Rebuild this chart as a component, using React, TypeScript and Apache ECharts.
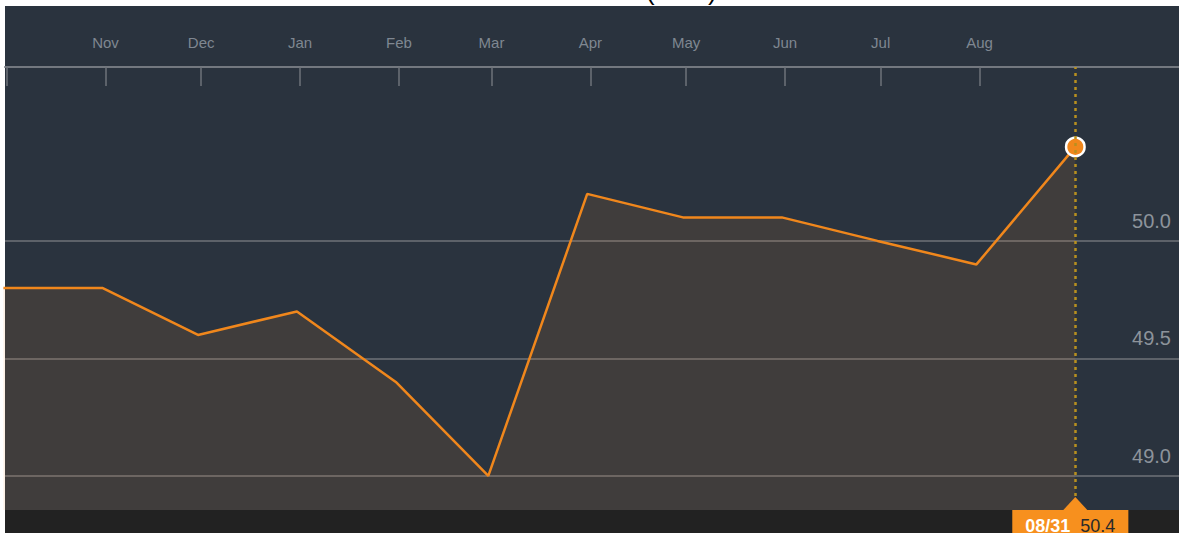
import React, { useEffect, useRef } from "react";
import * as echarts from "echarts";

// ---- data ----
const DATES = [
  "2015-09-30", "2015-10-31", "2015-11-30", "2015-12-31", "2016-01-31", "2016-02-29",
  "2016-03-31", "2016-04-30", "2016-05-31", "2016-06-30", "2016-07-31", "2016-08-31",
];
const VALUES = [49.8, 49.8, 49.6, 49.7, 49.4, 49.0, 50.2, 50.1, 50.1, 50.0, 49.9, 50.4];
const MONTH_TICKS = [
  "2015-10-01", "2015-11-01", "2015-12-01", "2016-01-01", "2016-02-01", "2016-03-01",
  "2016-04-01", "2016-05-01", "2016-06-01", "2016-07-01", "2016-08-01",
];
const MONTH_LABEL_TICKS = MONTH_TICKS.slice(1);
const MONTH_NAMES = ["Jan", "Feb", "Mar", "Apr", "May", "Jun", "Jul", "Aug", "Sep", "Oct", "Nov", "Dec"];
const Y_TICKS = [49.0, 49.5, 50.0];
const X_MIN = "2015-09-30T12:00:00Z";
const X_MAX = "2016-10-02T12:00:00Z";
const Y_MIN = 48.855;
const Y_MAX = 50.74;
const TITLE = "(NBS)";

const FONT = "Liberation Sans";
const ORANGE = "#f0871c";
const LABEL_ORANGE = "#f7901e";

export default function App() {
  const ref = useRef<HTMLDivElement>(null);

  useEffect(() => {
    if (!ref.current) return;
    const chart = echarts.init(ref.current, null, { renderer: "svg" });
    const last = DATES.length - 1;
    const lastT = Date.parse(DATES[last]);
    const ld = new Date(lastT);
    const pad = (n: number) => (n < 10 ? "0" + n : "" + n);
    const lastLabel = `${pad(ld.getUTCMonth() + 1)}/${pad(ld.getUTCDate())}`;

    const data = DATES.map((d, i) => {
      const item: any = { value: [Date.parse(d), VALUES[i]] };
      if (i === last) {
        item.symbol = "circle";
        item.symbolSize = 18.5;
        item.itemStyle = { color: ORANGE, borderColor: "#ffffff", borderWidth: 2.5 };
      }
      return item;
    });

    chart.setOption({
      animation: false,
      backgroundColor: "transparent",
      grid: { left: 5, right: 0, top: 67, bottom: 23 },
      xAxis: {
        type: "value",
        position: "top",
        min: Date.parse(X_MIN),
        max: Date.parse(X_MAX),
        axisLine: { show: true, lineStyle: { color: "#73787f", width: 2 } },
        axisTick: {
          show: true,
          inside: true,
          length: 19,
          customValues: MONTH_TICKS.map((d) => Date.parse(d)),
          lineStyle: { color: "#6e737a", width: 1.5 },
        },
        axisLabel: {
          show: true,
          margin: 17,
          customValues: MONTH_LABEL_TICKS.map((d) => Date.parse(d)),
          formatter: (v: number) => MONTH_NAMES[new Date(v).getUTCMonth()],
          color: "#7f8791",
          fontSize: 15,
          fontFamily: FONT,
        },
        splitLine: { show: false },
      },
      yAxis: {
        type: "value",
        position: "right",
        min: Y_MIN,
        max: Y_MAX,
        axisLine: { show: false },
        axisTick: { show: false, customValues: Y_TICKS },
        axisLabel: {
          show: true,
          inside: true,
          margin: 8,
          customValues: Y_TICKS,
          formatter: (v: number) => v.toFixed(1),
          color: "#8d939b",
          fontSize: 20,
          fontFamily: FONT,
          verticalAlign: "bottom",
          padding: [0, 0, 10, 0],
        },
        splitLine: { show: true, lineStyle: { color: "#6f7379", width: 1.5 } },
      },
      series: [
        {
          type: "line",
          data,
          symbol: "none",
          showSymbol: true,
          lineStyle: { color: ORANGE, width: 2.5 },
          itemStyle: { color: ORANGE },
          areaStyle: { color: "rgba(230,139,50,0.17)", origin: "start" },
          silent: true,
          markLine: {
            silent: true,
            symbol: ["none", "none"],
            label: { show: false },
            lineStyle: { type: [3, 4], color: "#b8901f", width: 2.5 },
            data: [{ xAxis: lastT }],
          },
          markPoint: {
            silent: true,
            symbol: "triangle",
            symbolSize: [24, 13],
            symbolOffset: [0, -6.5],
            itemStyle: { color: LABEL_ORANGE },
            label: {
              show: true,
              position: "bottom",
              distance: 0,
              offset: [-5, 0],
              backgroundColor: LABEL_ORANGE,
              padding: [7, 13, 6, 13],
              formatter: `{d|${lastLabel}}   {v|${VALUES[last].toFixed(1)}}`,
              rich: {
                d: { color: "#ffffff", fontSize: 18, fontWeight: "bold", fontFamily: FONT },
                v: { color: "#2a2a2a", fontSize: 18, fontFamily: FONT },
              },
            },
            data: [{ coord: [lastT, Y_MIN] }],
          },
        },
      ],
    });
    return () => chart.dispose();
  }, []);

  return (
    <div
      style={{
        position: "absolute",
        left: 0,
        top: 0,
        width: 1179,
        height: 533,
        overflow: "hidden",
        background: "#ffffff",
      }}
    >
      <div
        style={{
          position: "absolute",
          left: 646,
          top: -22,
          fontFamily: FONT,
          fontSize: 26,
          lineHeight: "26px",
          color: "#000",
          whiteSpace: "nowrap",
        }}
      >
        {TITLE}
      </div>
      <div style={{ position: "absolute", left: 5, top: 6, width: 1174, height: 504, background: "#2a333e" }} />
      <div style={{ position: "absolute", left: 5, top: 510, width: 1174, height: 23, background: "#222222" }} />
      <div ref={ref} style={{ position: "absolute", left: 0, top: 0, width: 1179, height: 533 }} />
    </div>
  );
}
